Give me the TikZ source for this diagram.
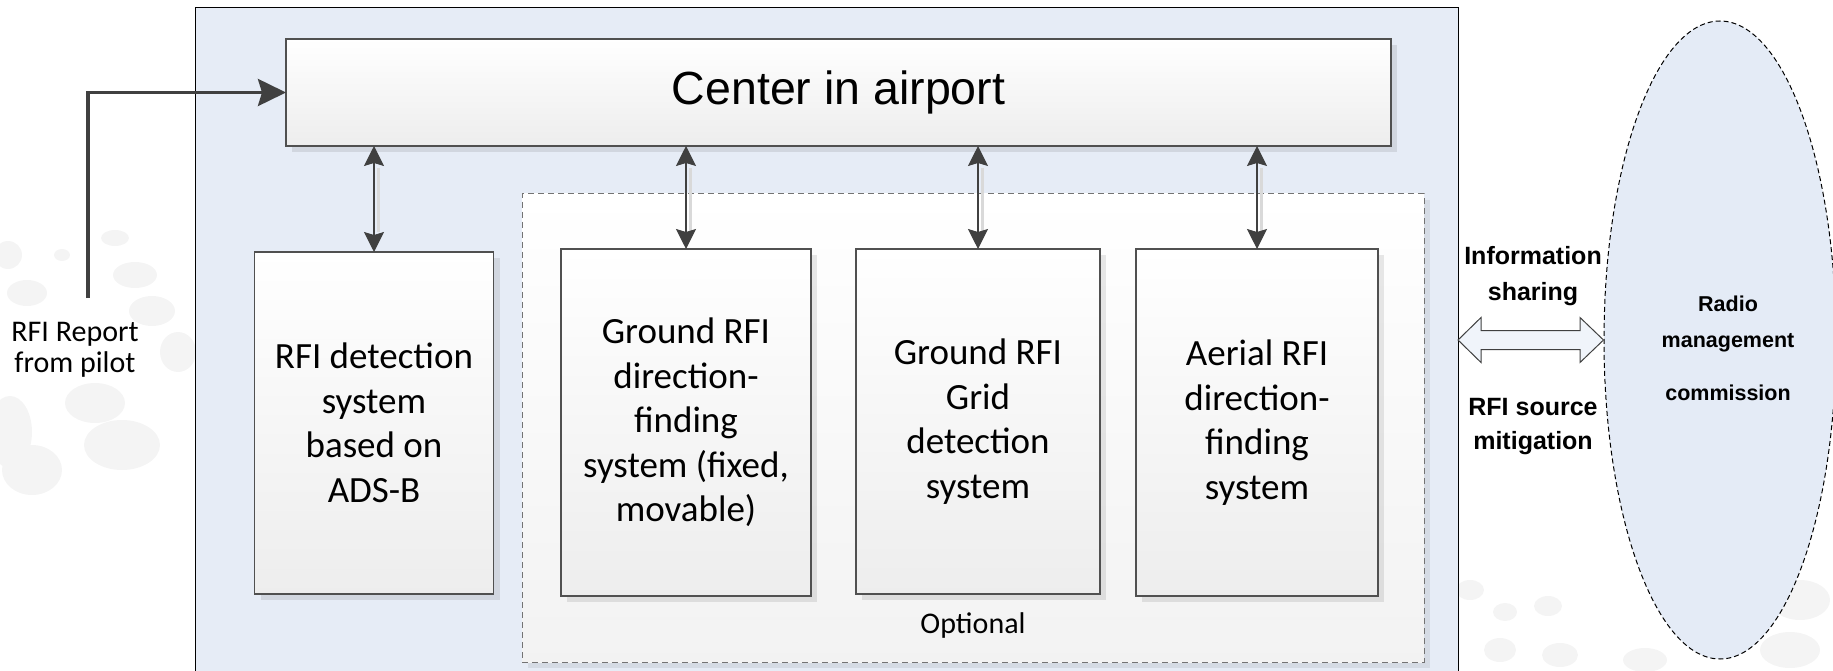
\documentclass[tikz,border=0pt]{standalone}
\usepackage{fontspec}
\setmainfont{Carlito}
\newfontfamily\arialf{Liberation Sans}
\usetikzlibrary{shadows,arrows.meta,shapes.geometric}
\definecolor{bluebg}{HTML}{E6ECF6}
\definecolor{ellfill}{HTML}{E4EBF6}
\definecolor{darkar}{HTML}{404040}
\definecolor{boxline}{HTML}{505050}
\definecolor{blob}{HTML}{F4F4F4}
\begin{document}
\begin{tikzpicture}[x=1pt,y=-1pt,
  sysbox/.style={draw=boxline, line width=1.1pt, top color=white, bottom color=black!7,
    drop shadow={shadow xshift=6pt,shadow yshift=-6pt,fill=black,opacity=0.09},
    align=center, inner sep=0pt, outer sep=0pt,
    font=\fontsize{37}{44.5}\selectfont},
  optbox/.style={draw=black!55, dash pattern=on 6pt off 4pt, line width=1pt,
    top color=white, bottom color=black!5,
    drop shadow={shadow xshift=6pt,shadow yshift=-6pt,fill=black,opacity=0.07},
    inner sep=0pt, outer sep=0pt},
  dblarrow/.style={draw=darkar, line width=1.2pt,
    {Stealth[length=20pt,width=20pt,inset=3pt]}-{Stealth[length=20pt,width=20pt,inset=3pt]}},
  arrowshadow/.style={draw=black!15, line width=3pt},
  pilotarrow/.style={draw=darkar, line width=3.5pt, -{Stealth[length=28pt,width=27pt,inset=4pt]}},
  lbl/.style={align=center, inner sep=0pt},
  wm/.style={fill=blob, draw=none}
]
\useasboundingbox (0,0) rectangle (1833,671);
% faint watermark blobs in the background
\foreach \cx/\cy/\rx/\ry in {8/255/14/14, 27/293/20/13, 115/238/14/8, 135/275/22/13, 152/311/23/15,
  178/352/18/20, 10/432/22/36, 95/403/30/20, 122/445/38/25, 32/470/30/25, 62/255/8/6,
  1470/590/14/10, 1505/612/12/9, 1548/606/14/10, 1500/650/16/12, 1560/655/18/12,
  1800/600/30/20, 1790/650/30/18, 1645/660/22/12}{
  \fill[wm] (\cx,\cy) ellipse [x radius=\rx, y radius=\ry];
}
% outer container
\node[draw=black, line width=1pt, fill=bluebg, minimum width=1263pt, minimum height=690pt,
  anchor=north west, inner sep=0pt, outer sep=0pt] (outer) at (195,8) {};
% optional group
\node[optbox, minimum width=902pt, minimum height=468pt] (opt) at (973,428) {};
\node[lbl, font=\fontsize{30}{36}\selectfont] (optlbl) at (973,625) {Optional};
% connector shadows
\foreach \x in {374,686,978,1257}{
  \draw[arrowshadow] (\x+4,168) -- (\x+4,232);
}
% center
\node[sysbox, minimum width=1105pt, minimum height=107pt, font=\arialf\fontsize{46.5}{50}\selectfont] (center) at (838.5,92.5) {Center in airport};
% system boxes
\node[sysbox, minimum width=239pt, minimum height=342pt] (rfid) at (374,423)
  {RFI detection\\system\\based on\\ADS-B};
\node[sysbox, minimum width=250pt, minimum height=347pt] (gdf) at (686,422.5)
  {Ground RFI\\direction-\\finding\\system (fixed,\\movable)};
\node[sysbox, minimum width=244pt, minimum height=345pt] (grid) at (978,421.5)
  {Ground RFI\\Grid\\detection\\system};
\node[sysbox, minimum width=242pt, minimum height=347pt] (aerial) at (1257,422.5)
  {Aerial RFI\\direction-\\finding\\system};
% connectors center <-> systems
\foreach \b in {rfid,gdf,grid,aerial}{
  \draw[dblarrow] (center.south -| \b.north) -- (\b.north);
}
% pilot report
\node[lbl, font=\fontsize{30}{31}\selectfont] (pilot) at (75,350) {RFI Report\\from pilot};
\coordinate (pstart) at (88,298);
\draw[pilotarrow] (pstart) |- (center.west);
% radio management commission
\node[ellipse, draw=black, dash pattern=on 5pt off 3pt, line width=1pt, fill=ellfill,
  minimum width=232pt, minimum height=638pt, inner sep=0pt] (rmc) at (1720,340) {};
\node[lbl, anchor=north, font=\arialf\bfseries\fontsize{21.5}{36}\selectfont] (rmctext) at (1728,296)
  {Radio\\management\\[17pt]commission};
% information sharing arrow
\draw[draw=darkar, line width=1pt, fill=white!40!bluebg, line join=miter]
  (outer.east |- rmc.west) -- ++(23,-22.5) -- ++(0,13) -- (1580,330.5) -- (1580,317.5)
  -- (rmc.west) -- (1580,362.5) -- (1580,349.5) -- (1481,349.5) -- (1481,362.5) -- cycle;
\node[lbl, font=\arialf\bfseries\fontsize{25}{36}\selectfont] (info) at (1533,276.5) {Information\\sharing};
\node[lbl, font=\arialf\bfseries\fontsize{25}{34}\selectfont] (mitig) at (1533,427) {RFI source\\mitigation};
\end{tikzpicture}
\end{document}
